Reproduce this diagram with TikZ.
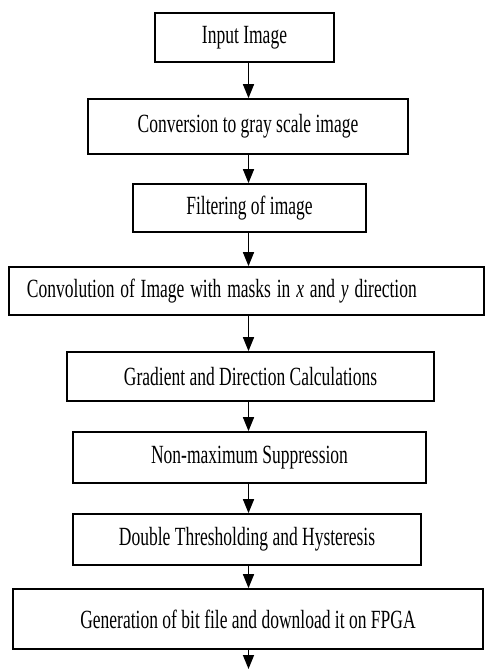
\documentclass[tikz,border=0pt]{standalone}
\usepackage{graphicx}
\usepackage{fontspec}
\setmainfont{Liberation Serif}
\usetikzlibrary{arrows.meta}
\newcommand{\tallt}[1]{\scalebox{1}[1.5]{#1}}
\begin{document}
\begin{tikzpicture}[x=1pt,y=1pt,
  stepbox/.style={draw, line width=1.7pt, rectangle, inner sep=0pt, font=\fontsize{17.5}{20}\selectfont},
  arr/.style={line width=1.5pt, -{Triangle[width=11pt,length=14pt]}}]
\useasboundingbox (0,0) rectangle (485,-669);
\node[stepbox, minimum width=179pt, minimum height=49pt] (b1) at (244.5,-37.5) {\tallt{Input Image}};
\node[stepbox, minimum width=320pt, minimum height=55pt] (b2) at (248,-126.5) {\tallt{Conversion to gray scale image}};
\node[stepbox, minimum width=233pt, minimum height=48pt] (b3) at (249.5,-208) {\tallt{Filtering of image}};
\node[stepbox, minimum width=475pt, minimum height=48pt, text width=439pt, inner xsep=18pt, align=left] (b4) at (246.5,-291) {\tallt{Convolution of Image with masks in \textit{x} and \textit{y} direction}};
\node[stepbox, minimum width=367pt, minimum height=49pt] (b5) at (250.5,-376.5) {\tallt{Gradient and Direction Calculations}};
\node[stepbox, minimum width=353pt, minimum height=51pt] (b6) at (249.5,-457.5) {\tallt{Non-maximum Suppression}};
\node[stepbox, minimum width=348pt, minimum height=51pt] (b7) at (247,-539.5) {\tallt{Double Thresholding and Hysteresis}};
\node[stepbox, minimum width=470pt, minimum height=60pt] (b8) at (248,-619) {\tallt{Generation of bit file and download it on FPGA}};
\coordinate (col) at (248.5,0);
\coordinate (end) at (248.5,-669);
\draw[arr] (col |- b1.south) -- (col |- b2.north);
\draw[arr] (col |- b2.south) -- (col |- b3.north);
\draw[arr] (col |- b3.south) -- (col |- b4.north);
\draw[arr] (col |- b4.south) -- (col |- b5.north);
\draw[arr] (col |- b5.south) -- (col |- b6.north);
\draw[arr] (col |- b6.south) -- (col |- b7.north);
\draw[arr] (col |- b7.south) -- (col |- b8.north);
\draw[arr] (col |- b8.south) -- (end);
\end{tikzpicture}
\end{document}
